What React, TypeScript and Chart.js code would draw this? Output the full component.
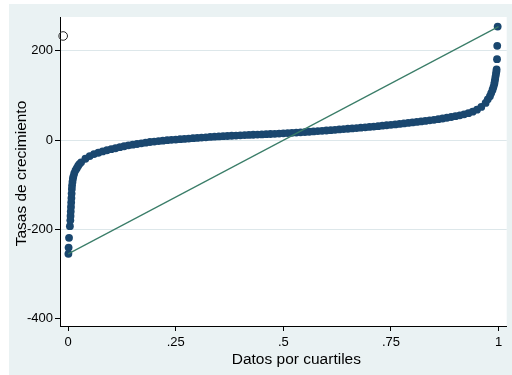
import React, { useEffect, useRef } from 'react';
import { Chart, registerables } from 'chart.js';

Chart.register(...registerables);

// Quantile positions (fraction of the data) and the sorted growth rates
const quantilePositions = [
  0.0005, 0.001, 0.002, 0.004, 0.005, 0.0055, 0.006, 0.0065, 0.007, 0.0075,
  0.008, 0.0085, 0.009, 0.01, 0.011, 0.012, 0.014, 0.017, 0.02, 0.023, 0.026,
  0.03, 0.04, 0.05, 0.06, 0.07, 0.08, 0.09, 0.1, 0.11, 0.12, 0.13, 0.14, 0.15,
  0.16, 0.17, 0.18, 0.19, 0.2, 0.21, 0.22, 0.23, 0.24, 0.25, 0.26, 0.27, 0.28,
  0.29, 0.3, 0.31, 0.32, 0.33, 0.34, 0.35, 0.36, 0.37, 0.38, 0.39, 0.4, 0.41,
  0.42, 0.43, 0.44, 0.45, 0.46, 0.47, 0.48, 0.49, 0.5, 0.51, 0.52, 0.53, 0.54,
  0.55, 0.56, 0.57, 0.58, 0.59, 0.6, 0.61, 0.62, 0.63, 0.64, 0.65, 0.66, 0.67,
  0.68, 0.69, 0.7, 0.71, 0.72, 0.73, 0.74, 0.75, 0.76, 0.77, 0.78, 0.79, 0.8,
  0.81, 0.82, 0.83, 0.84, 0.85, 0.86, 0.87, 0.88, 0.89, 0.9, 0.91, 0.92, 0.93,
  0.94, 0.95, 0.96, 0.97,
  0.975, 0.98, 0.983, 0.986, 0.988, 0.99, 0.991, 0.992, 0.993, 0.994, 0.995,
  0.9955, 0.9965, 0.997, 0.998,
];

const growthRates = [
  -255, -241, -219, -193, -180, -170, -160, -150, -140, -130,
  -120, -110, -102, -94, -87, -82, -75, -68, -63, -58, -54,
  -50, -42, -36, -31.5, -28.5, -25.5, -23, -20.5, -18.5, -16, -14, -12, -10.5,
  -9, -7.5, -6, -4.5, -3.5, -2.5, -1.5, -0.5, 0.3, 1, 1.8, 2.5, 3.2,
  4, 4.7, 5.4, 6.1, 6.8, 7.4, 8, 8.5, 9, 9.5, 10, 10.5, 11,
  11.4, 11.8, 12.2, 12.6, 13, 13.4, 13.9, 14.4, 15, 15.5, 16, 16.6, 17.2,
  17.8, 18.5, 19.2, 19.9, 20.6, 21.3, 22, 22.8, 23.6, 24.4, 25.2, 26, 26.8,
  27.6, 28.4, 29.2, 30.1, 31, 32, 33, 34, 35, 36, 37.1, 38.2, 39.3,
  40.4, 41.5, 42.7, 44, 45.3, 46.7, 48.2, 49.8, 51.5, 53.3, 55.3, 57.5, 60,
  63.5, 68, 74, 83,
  91, 98, 105, 112, 118, 125, 130, 136, 142, 148, 153,
  158, 181, 211, 254,
];

// Reference line from minimum to maximum
const refLineX = [0, 1];
const refLineY = [-255, 254];

// Hollow marker at top-left
const hollowX = [-0.0116];
const hollowY = [233];

const xTickValues = [0, 0.25, 0.5, 0.75, 1];
const xTickLabels = ['0', '.25', '.5', '.75', '1'];
const yTickValues = [-400, -200, 0, 200];
const yTickLabels = ['-400', '-200', '0', '200'];
const yGridValues = [-200, 0, 200];

const xTitle = 'Datos por cuartiles';
const yTitle = 'Tasas de crecimiento';

const FONT = '"Liberation Sans", Arial, Helvetica, sans-serif';

const stataPlugin = {
  id: 'stataLook',
  beforeDraw(chart: any) {
    const { ctx, chartArea } = chart;
    ctx.save();
    ctx.fillStyle = '#ffffff';
    ctx.fillRect(0, 0, chart.width, chart.height);
    ctx.fillStyle = '#EAF2F3';
    ctx.fillRect(9, 4, chart.width - 9, chart.height - 4);
    ctx.fillStyle = '#ffffff';
    ctx.fillRect(chartArea.left, chartArea.top, chartArea.right - chartArea.left, chartArea.bottom - chartArea.top);
    ctx.restore();
  },
  afterDraw(chart: any) {
    const { ctx, chartArea } = chart;
    ctx.save();
    ctx.fillStyle = '#000';
    ctx.font = `15.5px ${FONT}`;
    ctx.textAlign = 'center';
    ctx.textBaseline = 'alphabetic';
    const cx = (chartArea.left + chartArea.right) / 2 + 13;
    ctx.fillText(xTitle, cx, chartArea.bottom + 38);
    const cy = (chartArea.top + chartArea.bottom) / 2 + 2;
    ctx.translate(25.5, cy);
    ctx.rotate(-Math.PI / 2);
    ctx.fillText(yTitle, 0, 0);
    ctx.restore();
  },
};

export default function App() {
  const canvasRef = useRef<HTMLCanvasElement | null>(null);

  useEffect(() => {
    const canvas = canvasRef.current;
    if (!canvas) return;
    const points = quantilePositions.map((x, i) => ({ x, y: growthRates[i] }));
    const line = refLineX.map((x, i) => ({ x, y: refLineY[i] }));
    const hollow = hollowX.map((x, i) => ({ x, y: hollowY[i] }));

    const chart = new Chart(canvas, {
      type: 'scatter',
      data: {
        datasets: [
          {
            type: 'line',
            data: line,
            borderColor: '#3A7D68',
            borderWidth: 1.2,
            pointRadius: 0,
            showLine: true,
            fill: false,
            order: 0,
          } as any,
          {
            data: points,
            backgroundColor: '#1A476F',
            borderWidth: 0,
            pointRadius: 3.9,
            pointHoverRadius: 3.9,
            order: 1,
          },
          {
            data: hollow,
            backgroundColor: 'rgba(0,0,0,0)',
            borderColor: '#222',
            borderWidth: 1,
            pointRadius: 4.3,
            clip: false,
            order: 2,
          } as any,
        ],
      },
      options: {
        animation: false,
        responsive: false,
        devicePixelRatio: 1,
        events: [],
        layout: { padding: { left: 0, top: 17, right: 3, bottom: 0 } },
        plugins: { legend: { display: false }, tooltip: { enabled: false } },
        scales: {
          x: {
            type: 'linear',
            min: -0.019,
            max: 1.019,
            afterFit: (s: any) => { s.height = 49; },
            afterBuildTicks: (s: any) => { s.ticks = xTickValues.map((v) => ({ value: v })); },
            grid: { display: true, drawOnChartArea: false, tickLength: 5, tickColor: '#000', color: '#000' },
            border: { display: true, color: '#000', width: 1 },
            ticks: {
              autoSkip: false,
              maxRotation: 0,
              padding: 4,
              color: '#000',
              font: { family: FONT, size: 13 },
              callback: (v: any) => {
                const i = xTickValues.indexOf(Number(v));
                return i >= 0 ? xTickLabels[i] : '';
              },
            },
          },
          y: {
            type: 'linear',
            min: -416.6,
            max: 275.5,
            afterFit: (s: any) => { s.width = 60; },
            afterBuildTicks: (s: any) => { s.ticks = yTickValues.map((v) => ({ value: v })); },
            grid: {
              display: true,
              drawOnChartArea: true,
              tickLength: 5,
              tickColor: '#000',
              color: (c: any) => (c.tick && yGridValues.includes(c.tick.value) ? '#DDE7EA' : 'rgba(0,0,0,0)'),
            },
            border: { display: true, color: '#000', width: 1 },
            ticks: {
              autoSkip: false,
              padding: 2,
              color: '#000',
              font: { family: FONT, size: 13 },
              callback: (v: any) => {
                const i = yTickValues.indexOf(Number(v));
                return i >= 0 ? yTickLabels[i] : '';
              },
            },
          },
        },
      },
      plugins: [stataPlugin],
    });

    return () => chart.destroy();
  }, []);

  return (
    <div style={{ position: 'fixed', left: 0, top: 0, width: 512, height: 375 }}>
      <canvas ref={canvasRef} width={512} height={375} style={{ width: 512, height: 375, display: 'block' }} />
    </div>
  );
}
